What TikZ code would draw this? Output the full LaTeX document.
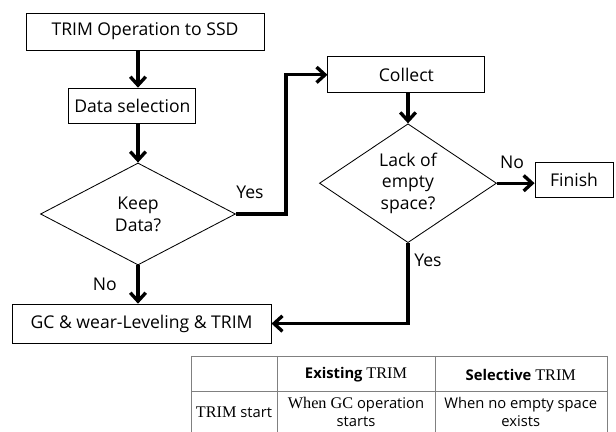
\documentclass[tikz,border=0pt]{standalone}
\usepackage{fontspec}
\setmainfont{Open Sans}
\newfontfamily\batang[Scale=1.1]{Liberation Serif}
\usetikzlibrary{shapes.geometric,arrows.meta}

\tikzset{
  box/.style={draw, line width=0.6pt, fill=white, inner sep=0pt, font=\fontsize{12.5}{15}\selectfont},
  dec/.style={draw, diamond, line width=0.6pt, inner sep=0pt, align=center, font=\fontsize{12.5}{15.5}\selectfont},
  arr/.style={line width=2.4pt, -{Straight Barb[length=6pt,width=11pt,line width=2.4pt]}},
  lbl/.style={font=\fontsize{12.5}{15}\selectfont},
  cell/.style={align=center, font=\fontsize{10.5}{13}\selectfont},
  grid/.style={draw=gray, line width=0.6pt}
}

\begin{document}
\begin{tikzpicture}[x=1cm,y=1cm]
\useasboundingbox (0,0) rectangle (15.4,-10.8);
%\def\px{0.025}
\path
(3.625,-0.79) node[box, minimum width=5.95cm, minimum height=0.925cm] (trim) {TRIM Operation to SSD}
(3.31,-2.64) node[box, minimum width=3.175cm, minimum height=0.875cm] (sel) {Data selection}
(3.45,-5.35) node[dec, minimum width=4.875cm, minimum height=2.55cm] (keep) {Keep\\Data?}
(10.16,-1.87) node[box, minimum width=3.925cm, minimum height=0.9cm] (collect) {Collect}
(10.2,-4.58) node[dec, minimum width=4.425cm, minimum height=2.575cm] (lack) {Lack of\\empty\\space?}
(14.35,-4.51) node[box, minimum width=1.95cm, minimum height=0.875cm] (finish) {Finish}
(3.54,-8.09) node[box, minimum width=6.475cm, minimum height=0.975cm] (gc) {GC \& wear-Leveling \& TRIM};
% edge labels
\path
(6.25,-4.82) node[lbl] (yes1) {Yes}
(12.8,-4.05) node[lbl] (no1) {No}
(10.7,-6.5) node[lbl] (yes2) {Yes}
(2.62,-7.12) node[lbl] (no2) {No};
\draw[arr] (trim.south -| keep.north) -- (sel.north -| keep.north);
\draw[arr] (sel.south -| keep.north) -- (keep.north);
\draw[arr] (keep.south) -- (gc.north -| keep.south);
\draw[arr] (keep.east) -- ++(1.25,0) |- (collect.west);
\draw[arr] (collect.south -| lack.north) -- (lack.north);
\draw[arr] (lack.east) -- (finish.west |- lack.east);
\draw[arr] (lack.south) |- (gc.east);
% table
\path
(4.775,-8.9) coordinate (t1)
(6.925,-8.9) coordinate (t2)
(10.875,-8.9) coordinate (t3)
(15.175,-8.9) coordinate (t4);
\draw[grid] (t1) -- (t4);
\draw[grid] (4.775,-9.775) -- (15.175,-9.775);
\foreach \t in {t1,t2,t3,t4}
  \draw[grid] (\t) -- (\t |- 0,-10.8);
\path
(8.9,-9.37) node[cell] (hd1) {\textbf{Existing} {\batang TRIM}}
(13.02,-9.37) node[cell] (hd2) {\textbf{Selective} {\batang TRIM}}
(5.85,-10.3) node[cell] (rowlab) {{\batang TRIM} start}
(8.9,-10.3) node[cell] (c1) {{\batang When GC} operation\\starts}
(13.02,-10.3) node[cell] (c2) {When no empty space\\exists};
\end{tikzpicture}
\end{document}
